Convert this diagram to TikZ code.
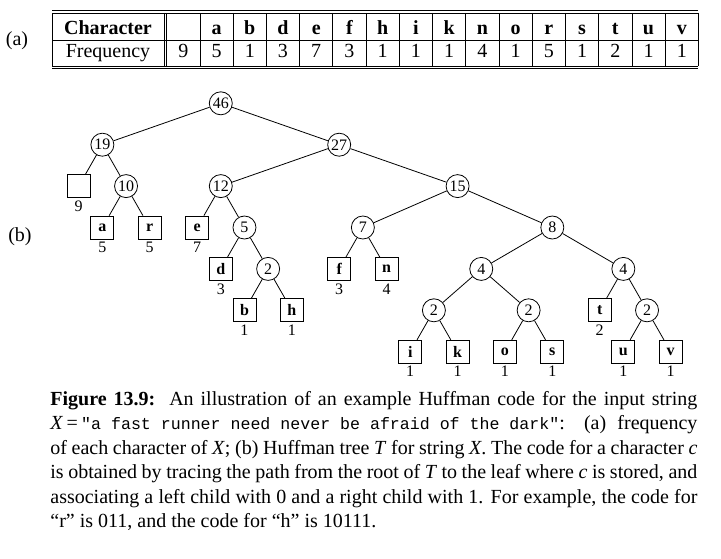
\documentclass[tikz,border=0pt]{standalone}
\usepackage{fontspec}
\setmainfont{Liberation Serif}
\setmonofont{Liberation Mono}[Scale=0.83]
\usetikzlibrary{positioning}

\tikzset{
  sumnode/.style={circle,draw,minimum size=11.5pt,inner sep=0pt,font=\footnotesize},
  leafnode/.style={rectangle,draw,minimum size=11.5pt,inner sep=0pt,font=\footnotesize\bfseries,
    label distance=0pt},
  every label/.style={font=\footnotesize,inner sep=1.2pt},
  cell/.style={anchor=base,inner sep=0pt}
}

\begin{document}
\begin{tikzpicture}[x=0.5pt,y=-0.5pt]
\useasboundingbox (0,0) rectangle (721,558);

% (a) the frequency table
\node[cell] (parta) at (17,45) {(a)};
\draw (52,10.7)--(698.3,10.7);
\draw (52,12.9)--(698.3,12.9);
\draw (52,40)--(698.3,40);
\draw (52,66.2)--(698.3,66.2);
\draw (52,68.6)--(698.3,68.6);
\draw (52,12.9)--(52,66.2);
\draw (164.5,12.9)--(164.5,66.2);
\draw (166.7,12.9)--(166.7,66.2);
\foreach \i in {1,...,16}
  \draw (166.7+33.23*\i,12.9)--(166.7+33.23*\i,66.2);
\node[cell] (hchar) at (108,34.5) {\textbf{Character}};
\node[cell] (hfreq) at (108,57.5) {Frequency};
\foreach \c/\f [count=\i from 0] in {{}/9,a/5,b/1,d/3,e/7,f/3,h/1,i/1,k/1,n/4,o/1,r/5,s/1,t/2,u/1,v/1}{
  \node[cell] (c\i) at (183.3+33.23*\i,34.5) {\textbf{\c}};
  \node[cell] (f\i) at (183.3+33.23*\i,57.5) {\f};
}

% (b) the Huffman tree
\node[cell] (partb) at (20,241) {(b)};
\begin{scope}[shift={(78.7,103.3)},x=11.84pt,y=-20.7pt]
\node[sumnode] (N46) at (6,0) {46};
\node[sumnode] (N19) at (1,1) {19};
\node[sumnode] (N27) at (11,1) {27};
\node[leafnode,label=below:9] (Lsp) at (0,2) {};
\node[sumnode] (N10) at (2,2) {10};
\node[sumnode] (N12) at (6,2) {12};
\node[sumnode] (N15) at (16,2) {15};
\node[leafnode,label=below:5] (La) at (1,3) {a};
\node[leafnode,label=below:5] (Lr) at (3,3) {r};
\node[leafnode,label=below:7] (Le) at (5,3) {e};
\node[sumnode] (N5) at (7,3) {5};
\node[sumnode] (N7) at (12,3) {7};
\node[sumnode] (N8) at (20,3) {8};
\node[leafnode,label=below:3] (Ld) at (6,4) {d};
\node[sumnode] (N2a) at (8,4) {2};
\node[leafnode,label=below:3] (Lf) at (11,4) {f};
\node[leafnode,label=below:4] (Ln) at (13,4) {n};
\node[sumnode] (N4a) at (17,4) {4};
\node[sumnode] (N4b) at (23,4) {4};
\node[leafnode,label=below:1] (Lb) at (7,5) {b};
\node[leafnode,label=below:1] (Lh) at (9,5) {h};
\node[sumnode] (N2b) at (15,5) {2};
\node[sumnode] (N2c) at (19,5) {2};
\node[leafnode,label=below:2] (Lt) at (22,5) {t};
\node[sumnode] (N2d) at (24,5) {2};
\node[leafnode,label=below:1] (Li) at (14,6) {i};
\node[leafnode,label=below:1] (Lk) at (16,6) {k};
\node[leafnode,label=below:1] (Lo) at (18,6) {o};
\node[leafnode,label=below:1] (Ls) at (20,6) {s};
\node[leafnode,label=below:1] (Lu) at (23,6) {u};
\node[leafnode,label=below:1] (Lv) at (25,6) {v};
\draw (N19)--(N46)--(N27);
\draw (Lsp)--(N19)--(N10);
\draw (La)--(N10)--(Lr);
\draw (N12)--(N27)--(N15);
\draw (Le)--(N12)--(N5);
\draw (Ld)--(N5)--(N2a);
\draw (Lb)--(N2a)--(Lh);
\draw (N7)--(N15)--(N8);
\draw (Lf)--(N7)--(Ln);
\draw (N4a)--(N8)--(N4b);
\draw (N2b)--(N4a)--(N2c);
\draw (Li)--(N2b)--(Lk);
\draw (Lo)--(N2c)--(Ls);
\draw (Lt)--(N4b)--(N2d);
\draw (Lu)--(N2d)--(Lv);
\end{scope}

% caption
\node[anchor=north west,inner sep=0pt,text width=323.5pt,align=justify,
  font=\fontsize{10}{12.2}\selectfont] (caption) at (50,391) {%
\hyphenpenalty=10000\relax\exhyphenpenalty=10000\relax
\textbf{Figure 13.9:}\ \ An illustration of an example Huffman code for the input string\linebreak
\textit{X}\,=\,\texttt{"a fast runner need never be afraid of the dark"}: (a) frequency\linebreak
of each character of \textit{X}; (b) Huffman tree \textit{T} for string \textit{X}. The code for a character \textit{c}\linebreak
is obtained by tracing the path from the root of \textit{T} to the leaf where \textit{c} is stored, and\linebreak
associating a left child with 0 and a right child with 1. For example, the code for\linebreak
``r'' is 011, and the code for ``h'' is 10111.};
\end{tikzpicture}
\end{document}
